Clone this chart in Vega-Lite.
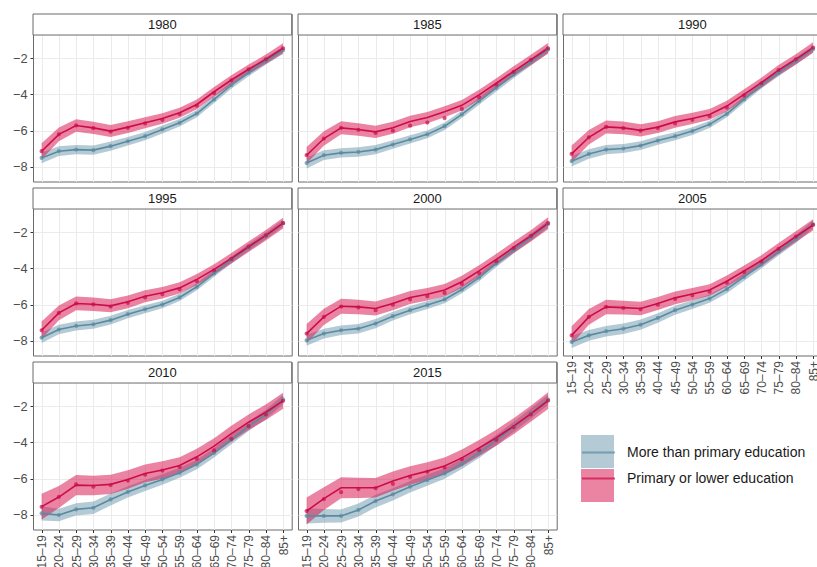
{
"$schema":"https://vega.github.io/schema/vega-lite/v6.json",
"background":"white",
"padding":{"left":11,"top":13,"right":0,"bottom":0},
"datasets":{
"years":[{"year":1980},{"year":1985},{"year":1990},{"year":1995},{"year":2000},{"year":2005},{"year":2010},{"year":2015}],
"d":[
{"year":1980,"edu":"more","age":"15–19","fit":-7.5,"err":0.3,"obs":-7.5},
{"year":1980,"edu":"more","age":"20–24","fit":-7.13,"err":0.27,"obs":-7.13},
{"year":1980,"edu":"more","age":"25–29","fit":-7.04,"err":0.26,"obs":-7.04},
{"year":1980,"edu":"more","age":"30–34","fit":-7.07,"err":0.26,"obs":-7.07},
{"year":1980,"edu":"more","age":"35–39","fit":-6.85,"err":0.25,"obs":-6.85},
{"year":1980,"edu":"more","age":"40–44","fit":-6.58,"err":0.24,"obs":-6.58},
{"year":1980,"edu":"more","age":"45–49","fit":-6.3,"err":0.23,"obs":-6.3},
{"year":1980,"edu":"more","age":"50–54","fit":-5.93,"err":0.22,"obs":-5.93},
{"year":1980,"edu":"more","age":"55–59","fit":-5.56,"err":0.21,"obs":-5.56},
{"year":1980,"edu":"more","age":"60–64","fit":-5.05,"err":0.2,"obs":-5.05},
{"year":1980,"edu":"more","age":"65–69","fit":-4.27,"err":0.2,"obs":-4.27},
{"year":1980,"edu":"more","age":"70–74","fit":-3.48,"err":0.2,"obs":-3.48},
{"year":1980,"edu":"more","age":"75–79","fit":-2.8,"err":0.2,"obs":-2.8},
{"year":1980,"edu":"more","age":"80–84","fit":-2.15,"err":0.2,"obs":-2.15},
{"year":1980,"edu":"more","age":"85+","fit":-1.56,"err":0.2,"obs":-1.56},
{"year":1980,"edu":"primary","age":"15–19","fit":-7.13,"err":0.44,"obs":-7.13},
{"year":1980,"edu":"primary","age":"20–24","fit":-6.2,"err":0.38,"obs":-6.2},
{"year":1980,"edu":"primary","age":"25–29","fit":-5.71,"err":0.35,"obs":-5.71},
{"year":1980,"edu":"primary","age":"30–34","fit":-5.84,"err":0.34,"obs":-5.86},
{"year":1980,"edu":"primary","age":"35–39","fit":-6.02,"err":0.33,"obs":-6.05},
{"year":1980,"edu":"primary","age":"40–44","fit":-5.8,"err":0.32,"obs":-5.84},
{"year":1980,"edu":"primary","age":"45–49","fit":-5.56,"err":0.3,"obs":-5.6},
{"year":1980,"edu":"primary","age":"50–54","fit":-5.32,"err":0.29,"obs":-5.4},
{"year":1980,"edu":"primary","age":"55–59","fit":-5.01,"err":0.28,"obs":-5.08},
{"year":1980,"edu":"primary","age":"60–64","fit":-4.55,"err":0.27,"obs":-4.62},
{"year":1980,"edu":"primary","age":"65–69","fit":-3.85,"err":0.26,"obs":-3.92},
{"year":1980,"edu":"primary","age":"70–74","fit":-3.2,"err":0.26,"obs":-3.22},
{"year":1980,"edu":"primary","age":"75–79","fit":-2.61,"err":0.26,"obs":-2.61},
{"year":1980,"edu":"primary","age":"80–84","fit":-2.06,"err":0.26,"obs":-2.06},
{"year":1980,"edu":"primary","age":"85+","fit":-1.45,"err":0.27,"obs":-1.45},
{"year":1985,"edu":"more","age":"15–19","fit":-7.78,"err":0.3,"obs":-7.78},
{"year":1985,"edu":"more","age":"20–24","fit":-7.35,"err":0.27,"obs":-7.35},
{"year":1985,"edu":"more","age":"25–29","fit":-7.22,"err":0.26,"obs":-7.22},
{"year":1985,"edu":"more","age":"30–34","fit":-7.17,"err":0.26,"obs":-7.17},
{"year":1985,"edu":"more","age":"35–39","fit":-7.04,"err":0.25,"obs":-7.04},
{"year":1985,"edu":"more","age":"40–44","fit":-6.76,"err":0.24,"obs":-6.76},
{"year":1985,"edu":"more","age":"45–49","fit":-6.48,"err":0.23,"obs":-6.48},
{"year":1985,"edu":"more","age":"50–54","fit":-6.2,"err":0.22,"obs":-6.2},
{"year":1985,"edu":"more","age":"55–59","fit":-5.75,"err":0.21,"obs":-5.75},
{"year":1985,"edu":"more","age":"60–64","fit":-5.1,"err":0.2,"obs":-5.1},
{"year":1985,"edu":"more","age":"65–69","fit":-4.36,"err":0.2,"obs":-4.36},
{"year":1985,"edu":"more","age":"70–74","fit":-3.63,"err":0.2,"obs":-3.63},
{"year":1985,"edu":"more","age":"75–79","fit":-2.9,"err":0.2,"obs":-2.9},
{"year":1985,"edu":"more","age":"80–84","fit":-2.22,"err":0.2,"obs":-2.22},
{"year":1985,"edu":"more","age":"85+","fit":-1.52,"err":0.2,"obs":-1.52},
{"year":1985,"edu":"primary","age":"15–19","fit":-7.35,"err":0.46,"obs":-7.35},
{"year":1985,"edu":"primary","age":"20–24","fit":-6.43,"err":0.4,"obs":-6.43},
{"year":1985,"edu":"primary","age":"25–29","fit":-5.84,"err":0.36,"obs":-5.84},
{"year":1985,"edu":"primary","age":"30–34","fit":-5.93,"err":0.35,"obs":-5.95},
{"year":1985,"edu":"primary","age":"35–39","fit":-6.06,"err":0.34,"obs":-6.12},
{"year":1985,"edu":"primary","age":"40–44","fit":-5.84,"err":0.33,"obs":-6.0},
{"year":1985,"edu":"primary","age":"45–49","fit":-5.49,"err":0.32,"obs":-5.72},
{"year":1985,"edu":"primary","age":"50–54","fit":-5.27,"err":0.31,"obs":-5.55},
{"year":1985,"edu":"primary","age":"55–59","fit":-4.95,"err":0.3,"obs":-5.3},
{"year":1985,"edu":"primary","age":"60–64","fit":-4.6,"err":0.29,"obs":-4.8},
{"year":1985,"edu":"primary","age":"65–69","fit":-4.02,"err":0.28,"obs":-4.15},
{"year":1985,"edu":"primary","age":"70–74","fit":-3.38,"err":0.28,"obs":-3.45},
{"year":1985,"edu":"primary","age":"75–79","fit":-2.72,"err":0.28,"obs":-2.75},
{"year":1985,"edu":"primary","age":"80–84","fit":-2.09,"err":0.28,"obs":-2.09},
{"year":1985,"edu":"primary","age":"85+","fit":-1.45,"err":0.29,"obs":-1.45},
{"year":1990,"edu":"more","age":"15–19","fit":-7.68,"err":0.29,"obs":-7.68},
{"year":1990,"edu":"more","age":"20–24","fit":-7.28,"err":0.26,"obs":-7.28},
{"year":1990,"edu":"more","age":"25–29","fit":-7.04,"err":0.25,"obs":-7.04},
{"year":1990,"edu":"more","age":"30–34","fit":-6.98,"err":0.25,"obs":-6.98},
{"year":1990,"edu":"more","age":"35–39","fit":-6.82,"err":0.24,"obs":-6.82},
{"year":1990,"edu":"more","age":"40–44","fit":-6.54,"err":0.23,"obs":-6.54},
{"year":1990,"edu":"more","age":"45–49","fit":-6.3,"err":0.22,"obs":-6.3},
{"year":1990,"edu":"more","age":"50–54","fit":-6.02,"err":0.21,"obs":-6.02},
{"year":1990,"edu":"more","age":"55–59","fit":-5.65,"err":0.2,"obs":-5.65},
{"year":1990,"edu":"more","age":"60–64","fit":-5.07,"err":0.19,"obs":-5.07},
{"year":1990,"edu":"more","age":"65–69","fit":-4.27,"err":0.19,"obs":-4.27},
{"year":1990,"edu":"more","age":"70–74","fit":-3.48,"err":0.19,"obs":-3.48},
{"year":1990,"edu":"more","age":"75–79","fit":-2.8,"err":0.19,"obs":-2.8},
{"year":1990,"edu":"more","age":"80–84","fit":-2.15,"err":0.19,"obs":-2.15},
{"year":1990,"edu":"more","age":"85+","fit":-1.5,"err":0.19,"obs":-1.5},
{"year":1990,"edu":"primary","age":"15–19","fit":-7.28,"err":0.46,"obs":-7.28},
{"year":1990,"edu":"primary","age":"20–24","fit":-6.36,"err":0.4,"obs":-6.36},
{"year":1990,"edu":"primary","age":"25–29","fit":-5.79,"err":0.36,"obs":-5.79},
{"year":1990,"edu":"primary","age":"30–34","fit":-5.84,"err":0.35,"obs":-5.86},
{"year":1990,"edu":"primary","age":"35–39","fit":-5.98,"err":0.34,"obs":-6.0},
{"year":1990,"edu":"primary","age":"40–44","fit":-5.8,"err":0.33,"obs":-5.85},
{"year":1990,"edu":"primary","age":"45–49","fit":-5.51,"err":0.32,"obs":-5.6},
{"year":1990,"edu":"primary","age":"50–54","fit":-5.32,"err":0.31,"obs":-5.4},
{"year":1990,"edu":"primary","age":"55–59","fit":-5.1,"err":0.3,"obs":-5.2},
{"year":1990,"edu":"primary","age":"60–64","fit":-4.64,"err":0.29,"obs":-4.72},
{"year":1990,"edu":"primary","age":"65–69","fit":-3.99,"err":0.28,"obs":-4.05},
{"year":1990,"edu":"primary","age":"70–74","fit":-3.35,"err":0.28,"obs":-3.38},
{"year":1990,"edu":"primary","age":"75–79","fit":-2.66,"err":0.28,"obs":-2.66},
{"year":1990,"edu":"primary","age":"80–84","fit":-2.06,"err":0.28,"obs":-2.06},
{"year":1990,"edu":"primary","age":"85+","fit":-1.41,"err":0.29,"obs":-1.41},
{"year":1995,"edu":"more","age":"15–19","fit":-7.82,"err":0.29,"obs":-7.82},
{"year":1995,"edu":"more","age":"20–24","fit":-7.37,"err":0.26,"obs":-7.37},
{"year":1995,"edu":"more","age":"25–29","fit":-7.17,"err":0.25,"obs":-7.17},
{"year":1995,"edu":"more","age":"30–34","fit":-7.08,"err":0.25,"obs":-7.08},
{"year":1995,"edu":"more","age":"35–39","fit":-6.85,"err":0.24,"obs":-6.85},
{"year":1995,"edu":"more","age":"40–44","fit":-6.52,"err":0.23,"obs":-6.52},
{"year":1995,"edu":"more","age":"45–49","fit":-6.25,"err":0.22,"obs":-6.25},
{"year":1995,"edu":"more","age":"50–54","fit":-5.99,"err":0.21,"obs":-5.99},
{"year":1995,"edu":"more","age":"55–59","fit":-5.6,"err":0.2,"obs":-5.6},
{"year":1995,"edu":"more","age":"60–64","fit":-5.01,"err":0.19,"obs":-5.01},
{"year":1995,"edu":"more","age":"65–69","fit":-4.27,"err":0.19,"obs":-4.27},
{"year":1995,"edu":"more","age":"70–74","fit":-3.53,"err":0.19,"obs":-3.53},
{"year":1995,"edu":"more","age":"75–79","fit":-2.84,"err":0.19,"obs":-2.84},
{"year":1995,"edu":"more","age":"80–84","fit":-2.2,"err":0.19,"obs":-2.2},
{"year":1995,"edu":"more","age":"85+","fit":-1.5,"err":0.19,"obs":-1.5},
{"year":1995,"edu":"primary","age":"15–19","fit":-7.41,"err":0.48,"obs":-7.41},
{"year":1995,"edu":"primary","age":"20–24","fit":-6.45,"err":0.41,"obs":-6.45},
{"year":1995,"edu":"primary","age":"25–29","fit":-5.93,"err":0.38,"obs":-5.93},
{"year":1995,"edu":"primary","age":"30–34","fit":-5.97,"err":0.37,"obs":-5.98},
{"year":1995,"edu":"primary","age":"35–39","fit":-6.06,"err":0.36,"obs":-6.1},
{"year":1995,"edu":"primary","age":"40–44","fit":-5.84,"err":0.35,"obs":-5.9},
{"year":1995,"edu":"primary","age":"45–49","fit":-5.53,"err":0.33,"obs":-5.6},
{"year":1995,"edu":"primary","age":"50–54","fit":-5.34,"err":0.32,"obs":-5.42},
{"year":1995,"edu":"primary","age":"55–59","fit":-5.07,"err":0.31,"obs":-5.15},
{"year":1995,"edu":"primary","age":"60–64","fit":-4.6,"err":0.3,"obs":-4.7},
{"year":1995,"edu":"primary","age":"65–69","fit":-4.05,"err":0.29,"obs":-4.1},
{"year":1995,"edu":"primary","age":"70–74","fit":-3.44,"err":0.29,"obs":-3.47},
{"year":1995,"edu":"primary","age":"75–79","fit":-2.8,"err":0.29,"obs":-2.8},
{"year":1995,"edu":"primary","age":"80–84","fit":-2.17,"err":0.29,"obs":-2.17},
{"year":1995,"edu":"primary","age":"85+","fit":-1.5,"err":0.3,"obs":-1.5},
{"year":2000,"edu":"more","age":"15–19","fit":-7.96,"err":0.3,"obs":-7.96},
{"year":2000,"edu":"more","age":"20–24","fit":-7.59,"err":0.27,"obs":-7.59},
{"year":2000,"edu":"more","age":"25–29","fit":-7.41,"err":0.26,"obs":-7.41},
{"year":2000,"edu":"more","age":"30–34","fit":-7.32,"err":0.26,"obs":-7.32},
{"year":2000,"edu":"more","age":"35–39","fit":-7.04,"err":0.25,"obs":-7.04},
{"year":2000,"edu":"more","age":"40–44","fit":-6.63,"err":0.24,"obs":-6.63},
{"year":2000,"edu":"more","age":"45–49","fit":-6.3,"err":0.23,"obs":-6.3},
{"year":2000,"edu":"more","age":"50–54","fit":-6.02,"err":0.22,"obs":-6.02},
{"year":2000,"edu":"more","age":"55–59","fit":-5.71,"err":0.21,"obs":-5.71},
{"year":2000,"edu":"more","age":"60–64","fit":-5.16,"err":0.2,"obs":-5.16},
{"year":2000,"edu":"more","age":"65–69","fit":-4.5,"err":0.2,"obs":-4.5},
{"year":2000,"edu":"more","age":"70–74","fit":-3.72,"err":0.2,"obs":-3.72},
{"year":2000,"edu":"more","age":"75–79","fit":-2.98,"err":0.2,"obs":-2.98},
{"year":2000,"edu":"more","age":"80–84","fit":-2.28,"err":0.2,"obs":-2.28},
{"year":2000,"edu":"more","age":"85+","fit":-1.54,"err":0.2,"obs":-1.54},
{"year":2000,"edu":"primary","age":"15–19","fit":-7.59,"err":0.53,"obs":-7.59},
{"year":2000,"edu":"primary","age":"20–24","fit":-6.67,"err":0.45,"obs":-6.67},
{"year":2000,"edu":"primary","age":"25–29","fit":-6.08,"err":0.41,"obs":-6.1},
{"year":2000,"edu":"primary","age":"30–34","fit":-6.12,"err":0.4,"obs":-6.15},
{"year":2000,"edu":"primary","age":"35–39","fit":-6.21,"err":0.39,"obs":-6.3},
{"year":2000,"edu":"primary","age":"40–44","fit":-5.93,"err":0.38,"obs":-6.0},
{"year":2000,"edu":"primary","age":"45–49","fit":-5.6,"err":0.36,"obs":-5.7},
{"year":2000,"edu":"primary","age":"50–54","fit":-5.42,"err":0.35,"obs":-5.53},
{"year":2000,"edu":"primary","age":"55–59","fit":-5.19,"err":0.34,"obs":-5.35},
{"year":2000,"edu":"primary","age":"60–64","fit":-4.73,"err":0.33,"obs":-4.85},
{"year":2000,"edu":"primary","age":"65–69","fit":-4.13,"err":0.31,"obs":-4.25},
{"year":2000,"edu":"primary","age":"70–74","fit":-3.5,"err":0.31,"obs":-3.6},
{"year":2000,"edu":"primary","age":"75–79","fit":-2.84,"err":0.31,"obs":-2.88},
{"year":2000,"edu":"primary","age":"80–84","fit":-2.2,"err":0.31,"obs":-2.2},
{"year":2000,"edu":"primary","age":"85+","fit":-1.5,"err":0.33,"obs":-1.5},
{"year":2005,"edu":"more","age":"15–19","fit":-8.05,"err":0.33,"obs":-8.05},
{"year":2005,"edu":"more","age":"20–24","fit":-7.69,"err":0.3,"obs":-7.69},
{"year":2005,"edu":"more","age":"25–29","fit":-7.46,"err":0.29,"obs":-7.46},
{"year":2005,"edu":"more","age":"30–34","fit":-7.32,"err":0.29,"obs":-7.32},
{"year":2005,"edu":"more","age":"35–39","fit":-7.1,"err":0.28,"obs":-7.1},
{"year":2005,"edu":"more","age":"40–44","fit":-6.73,"err":0.26,"obs":-6.73},
{"year":2005,"edu":"more","age":"45–49","fit":-6.3,"err":0.25,"obs":-6.3},
{"year":2005,"edu":"more","age":"50–54","fit":-5.99,"err":0.24,"obs":-5.99},
{"year":2005,"edu":"more","age":"55–59","fit":-5.66,"err":0.23,"obs":-5.66},
{"year":2005,"edu":"more","age":"60–64","fit":-5.14,"err":0.22,"obs":-5.14},
{"year":2005,"edu":"more","age":"65–69","fit":-4.46,"err":0.22,"obs":-4.46},
{"year":2005,"edu":"more","age":"70–74","fit":-3.78,"err":0.22,"obs":-3.78},
{"year":2005,"edu":"more","age":"75–79","fit":-3.07,"err":0.22,"obs":-3.07},
{"year":2005,"edu":"more","age":"80–84","fit":-2.37,"err":0.22,"obs":-2.37},
{"year":2005,"edu":"more","age":"85+","fit":-1.56,"err":0.22,"obs":-1.56},
{"year":2005,"edu":"primary","age":"15–19","fit":-7.69,"err":0.5,"obs":-7.69},
{"year":2005,"edu":"primary","age":"20–24","fit":-6.67,"err":0.43,"obs":-6.67},
{"year":2005,"edu":"primary","age":"25–29","fit":-6.12,"err":0.4,"obs":-6.12},
{"year":2005,"edu":"primary","age":"30–34","fit":-6.16,"err":0.38,"obs":-6.18},
{"year":2005,"edu":"primary","age":"35–39","fit":-6.21,"err":0.37,"obs":-6.25},
{"year":2005,"edu":"primary","age":"40–44","fit":-5.93,"err":0.36,"obs":-6.0},
{"year":2005,"edu":"primary","age":"45–49","fit":-5.62,"err":0.35,"obs":-5.68},
{"year":2005,"edu":"primary","age":"50–54","fit":-5.41,"err":0.34,"obs":-5.48},
{"year":2005,"edu":"primary","age":"55–59","fit":-5.19,"err":0.32,"obs":-5.28},
{"year":2005,"edu":"primary","age":"60–64","fit":-4.7,"err":0.31,"obs":-4.78},
{"year":2005,"edu":"primary","age":"65–69","fit":-4.14,"err":0.3,"obs":-4.2},
{"year":2005,"edu":"primary","age":"70–74","fit":-3.57,"err":0.3,"obs":-3.62},
{"year":2005,"edu":"primary","age":"75–79","fit":-2.89,"err":0.3,"obs":-2.92},
{"year":2005,"edu":"primary","age":"80–84","fit":-2.24,"err":0.3,"obs":-2.24},
{"year":2005,"edu":"primary","age":"85+","fit":-1.6,"err":0.31,"obs":-1.6},
{"year":2010,"edu":"more","age":"15–19","fit":-7.91,"err":0.39,"obs":-7.91},
{"year":2010,"edu":"more","age":"20–24","fit":-8.0,"err":0.35,"obs":-8.0},
{"year":2010,"edu":"more","age":"25–29","fit":-7.69,"err":0.34,"obs":-7.69},
{"year":2010,"edu":"more","age":"30–34","fit":-7.6,"err":0.34,"obs":-7.6},
{"year":2010,"edu":"more","age":"35–39","fit":-7.14,"err":0.33,"obs":-7.14},
{"year":2010,"edu":"more","age":"40–44","fit":-6.73,"err":0.31,"obs":-6.73},
{"year":2010,"edu":"more","age":"45–49","fit":-6.37,"err":0.3,"obs":-6.37},
{"year":2010,"edu":"more","age":"50–54","fit":-6.04,"err":0.29,"obs":-6.04},
{"year":2010,"edu":"more","age":"55–59","fit":-5.67,"err":0.27,"obs":-5.67},
{"year":2010,"edu":"more","age":"60–64","fit":-5.21,"err":0.26,"obs":-5.21},
{"year":2010,"edu":"more","age":"65–69","fit":-4.57,"err":0.26,"obs":-4.57},
{"year":2010,"edu":"more","age":"70–74","fit":-3.84,"err":0.26,"obs":-3.84},
{"year":2010,"edu":"more","age":"75–79","fit":-3.1,"err":0.26,"obs":-3.1},
{"year":2010,"edu":"more","age":"80–84","fit":-2.46,"err":0.26,"obs":-2.46},
{"year":2010,"edu":"more","age":"85+","fit":-1.62,"err":0.26,"obs":-1.62},
{"year":2010,"edu":"primary","age":"15–19","fit":-7.54,"err":0.71,"obs":-7.55},
{"year":2010,"edu":"primary","age":"20–24","fit":-7.01,"err":0.61,"obs":-7.0},
{"year":2010,"edu":"primary","age":"25–29","fit":-6.35,"err":0.56,"obs":-6.31},
{"year":2010,"edu":"primary","age":"30–34","fit":-6.37,"err":0.54,"obs":-6.44},
{"year":2010,"edu":"primary","age":"35–39","fit":-6.31,"err":0.53,"obs":-6.35},
{"year":2010,"edu":"primary","age":"40–44","fit":-6.04,"err":0.51,"obs":-6.1},
{"year":2010,"edu":"primary","age":"45–49","fit":-5.71,"err":0.49,"obs":-5.78},
{"year":2010,"edu":"primary","age":"50–54","fit":-5.52,"err":0.48,"obs":-5.55},
{"year":2010,"edu":"primary","age":"55–59","fit":-5.27,"err":0.46,"obs":-5.35},
{"year":2010,"edu":"primary","age":"60–64","fit":-4.79,"err":0.44,"obs":-4.9},
{"year":2010,"edu":"primary","age":"65–69","fit":-4.2,"err":0.43,"obs":-4.44},
{"year":2010,"edu":"primary","age":"70–74","fit":-3.51,"err":0.43,"obs":-3.8},
{"year":2010,"edu":"primary","age":"75–79","fit":-2.88,"err":0.43,"obs":-3.1},
{"year":2010,"edu":"primary","age":"80–84","fit":-2.33,"err":0.43,"obs":-2.45},
{"year":2010,"edu":"primary","age":"85+","fit":-1.7,"err":0.44,"obs":-1.7},
{"year":2015,"edu":"more","age":"15–19","fit":-8.05,"err":0.42,"obs":-8.05},
{"year":2015,"edu":"more","age":"20–24","fit":-8.05,"err":0.38,"obs":-8.05},
{"year":2015,"edu":"more","age":"25–29","fit":-8.05,"err":0.36,"obs":-8.05},
{"year":2015,"edu":"more","age":"30–34","fit":-7.72,"err":0.36,"obs":-7.72},
{"year":2015,"edu":"more","age":"35–39","fit":-7.23,"err":0.35,"obs":-7.23},
{"year":2015,"edu":"more","age":"40–44","fit":-6.86,"err":0.34,"obs":-6.86},
{"year":2015,"edu":"more","age":"45–49","fit":-6.44,"err":0.32,"obs":-6.44},
{"year":2015,"edu":"more","age":"50–54","fit":-6.07,"err":0.31,"obs":-6.07},
{"year":2015,"edu":"more","age":"55–59","fit":-5.71,"err":0.29,"obs":-5.71},
{"year":2015,"edu":"more","age":"60–64","fit":-5.18,"err":0.28,"obs":-5.18},
{"year":2015,"edu":"more","age":"65–69","fit":-4.57,"err":0.28,"obs":-4.57},
{"year":2015,"edu":"more","age":"70–74","fit":-3.87,"err":0.28,"obs":-3.87},
{"year":2015,"edu":"more","age":"75–79","fit":-3.14,"err":0.28,"obs":-3.14},
{"year":2015,"edu":"more","age":"80–84","fit":-2.41,"err":0.28,"obs":-2.41},
{"year":2015,"edu":"more","age":"85+","fit":-1.64,"err":0.28,"obs":-1.64},
{"year":2015,"edu":"primary","age":"15–19","fit":-7.78,"err":0.74,"obs":-7.78},
{"year":2015,"edu":"primary","age":"20–24","fit":-7.1,"err":0.63,"obs":-7.12},
{"year":2015,"edu":"primary","age":"25–29","fit":-6.5,"err":0.58,"obs":-6.74},
{"year":2015,"edu":"primary","age":"30–34","fit":-6.5,"err":0.56,"obs":-6.57},
{"year":2015,"edu":"primary","age":"35–39","fit":-6.5,"err":0.54,"obs":-6.52},
{"year":2015,"edu":"primary","age":"40–44","fit":-6.13,"err":0.53,"obs":-6.28},
{"year":2015,"edu":"primary","age":"45–49","fit":-5.82,"err":0.51,"obs":-5.9},
{"year":2015,"edu":"primary","age":"50–54","fit":-5.58,"err":0.49,"obs":-5.62},
{"year":2015,"edu":"primary","age":"55–59","fit":-5.3,"err":0.47,"obs":-5.38},
{"year":2015,"edu":"primary","age":"60–64","fit":-4.85,"err":0.46,"obs":-4.92},
{"year":2015,"edu":"primary","age":"65–69","fit":-4.3,"err":0.44,"obs":-4.42},
{"year":2015,"edu":"primary","age":"70–74","fit":-3.74,"err":0.44,"obs":-3.85},
{"year":2015,"edu":"primary","age":"75–79","fit":-3.1,"err":0.44,"obs":-3.15},
{"year":2015,"edu":"primary","age":"80–84","fit":-2.42,"err":0.44,"obs":-2.45},
{"year":2015,"edu":"primary","age":"85+","fit":-1.69,"err":0.46,"obs":-1.69}
]},
"data":{"name":"d"},
"columns":3,
"spacing":{"row":6,"column":6},
"bounds":"flush",
"concat":[
{"width":258.7,"height":167.5,"layer":[
 {"transform":[{"filter":"datum.year == 1980"}],
  "encoding":{"x":{"field":"age","type":"ordinal","title":null,"scale":{"type":"point","padding":0.5,"domain":["15–19","20–24","25–29","30–34","35–39","40–44","45–49","50–54","55–59","60–64","65–69","70–74","75–79","80–84","85+"]},"axis":{"labels":false,"ticks":false}}},
  "layer":[
   {"mark":{"type":"errorband","opacity":0.5},"encoding":{"y":{"field":"fit","type":"quantitative","title":null,"scale":{"domain":[-8.8,0.44],"nice":false,"zero":false},"axis":{"values":[-8,-7,-6,-5,-4,-3,-2,-1],"labelExpr":"datum.value % 2 === 0 ? datum.label : ''","tickColor":{"condition":{"test":"datum.value % 2 === 0","value":"#333333"},"value":"rgba(0,0,0,0)"},"gridColor":{"condition":{"test":"datum.value % 2 === 0","value":"#ebebeb"},"value":"#f4f4f4"}}},"yError":{"field":"err"},"fill":{"field":"edu","type":"nominal","title":null,"scale":{"domain":["more","primary"],"range":["#6a97ab","#d70a48"]},"legend":{"symbolType":"square","symbolOpacity":0.5,"symbolStrokeWidth":0,"zindex":1,"labelExpr":"''"}}}},
   {"mark":{"type":"line","strokeWidth":1.6},"encoding":{"y":{"field":"fit","type":"quantitative"},"stroke":{"field":"edu","type":"nominal","title":null,"scale":{"range":["#5b8aa0","#cc0c4a"]},"legend":{"symbolType":"stroke","symbolStrokeWidth":1.8,"zindex":2,"labelExpr":"datum.label == 'more' ? 'More than primary education' : 'Primary or lower education'"}}}},
   {"mark":{"type":"point","filled":false,"size":5,"strokeWidth":2,"opacity":0.7},"encoding":{"y":{"field":"obs","type":"quantitative"},"stroke":{"field":"edu","type":"nominal"}}}
  ]},
 {"data":{"name":"years"},"transform":[{"filter":"datum.year == 1980"}],"mark":{"type":"rect","fill":"white","stroke":"#6b6b6b","strokeWidth":1},"encoding":{"y":{"datum":-0.72},"y2":{"datum":0.44}}},
 {"data":{"name":"years"},"transform":[{"filter":"datum.year == 1980"}],"mark":{"type":"text","fontSize":13,"color":"#1a1a1a"},"encoding":{"y":{"datum":-0.14},"text":{"field":"year","type":"nominal"}}}
]},
{"width":258.7,"height":167.5,"layer":[
 {"transform":[{"filter":"datum.year == 1985"}],
  "encoding":{"x":{"field":"age","type":"ordinal","title":null,"scale":{"type":"point","padding":0.5,"domain":["15–19","20–24","25–29","30–34","35–39","40–44","45–49","50–54","55–59","60–64","65–69","70–74","75–79","80–84","85+"]},"axis":{"labels":false,"ticks":false}}},
  "layer":[
   {"mark":{"type":"errorband","opacity":0.5},"encoding":{"y":{"field":"fit","type":"quantitative","title":null,"scale":{"domain":[-8.8,0.44],"nice":false,"zero":false},"axis":{"values":[-8,-7,-6,-5,-4,-3,-2,-1],"labels":false,"ticks":false,"gridColor":{"condition":{"test":"datum.value % 2 === 0","value":"#ebebeb"},"value":"#f4f4f4"}}},"yError":{"field":"err"},"fill":{"field":"edu","type":"nominal","title":null,"scale":{"domain":["more","primary"],"range":["#6a97ab","#d70a48"]},"legend":null}}},
   {"mark":{"type":"line","strokeWidth":1.6},"encoding":{"y":{"field":"fit","type":"quantitative"},"stroke":{"field":"edu","type":"nominal","legend":null}}},
   {"mark":{"type":"point","filled":false,"size":5,"strokeWidth":2,"opacity":0.7},"encoding":{"y":{"field":"obs","type":"quantitative"},"stroke":{"field":"edu","type":"nominal","legend":null}}}
  ]},
 {"data":{"name":"years"},"transform":[{"filter":"datum.year == 1985"}],"mark":{"type":"rect","fill":"white","stroke":"#6b6b6b","strokeWidth":1},"encoding":{"y":{"datum":-0.72},"y2":{"datum":0.44}}},
 {"data":{"name":"years"},"transform":[{"filter":"datum.year == 1985"}],"mark":{"type":"text","fontSize":13,"color":"#1a1a1a"},"encoding":{"y":{"datum":-0.14},"text":{"field":"year","type":"nominal"}}}
]},
{"width":258.7,"height":167.5,"layer":[
 {"transform":[{"filter":"datum.year == 1990"}],
  "encoding":{"x":{"field":"age","type":"ordinal","title":null,"scale":{"type":"point","padding":0.5,"domain":["15–19","20–24","25–29","30–34","35–39","40–44","45–49","50–54","55–59","60–64","65–69","70–74","75–79","80–84","85+"]},"axis":{"labels":false,"ticks":false}}},
  "layer":[
   {"mark":{"type":"errorband","opacity":0.5},"encoding":{"y":{"field":"fit","type":"quantitative","title":null,"scale":{"domain":[-8.8,0.44],"nice":false,"zero":false},"axis":{"values":[-8,-7,-6,-5,-4,-3,-2,-1],"labels":false,"ticks":false,"gridColor":{"condition":{"test":"datum.value % 2 === 0","value":"#ebebeb"},"value":"#f4f4f4"}}},"yError":{"field":"err"},"fill":{"field":"edu","type":"nominal","title":null,"scale":{"domain":["more","primary"],"range":["#6a97ab","#d70a48"]},"legend":null}}},
   {"mark":{"type":"line","strokeWidth":1.6},"encoding":{"y":{"field":"fit","type":"quantitative"},"stroke":{"field":"edu","type":"nominal","legend":null}}},
   {"mark":{"type":"point","filled":false,"size":5,"strokeWidth":2,"opacity":0.7},"encoding":{"y":{"field":"obs","type":"quantitative"},"stroke":{"field":"edu","type":"nominal","legend":null}}}
  ]},
 {"data":{"name":"years"},"transform":[{"filter":"datum.year == 1990"}],"mark":{"type":"rect","fill":"white","stroke":"#6b6b6b","strokeWidth":1},"encoding":{"y":{"datum":-0.72},"y2":{"datum":0.44}}},
 {"data":{"name":"years"},"transform":[{"filter":"datum.year == 1990"}],"mark":{"type":"text","fontSize":13,"color":"#1a1a1a"},"encoding":{"y":{"datum":-0.14},"text":{"field":"year","type":"nominal"}}}
]},
{"width":258.7,"height":167.5,"layer":[
 {"transform":[{"filter":"datum.year == 1995"}],
  "encoding":{"x":{"field":"age","type":"ordinal","title":null,"scale":{"type":"point","padding":0.5,"domain":["15–19","20–24","25–29","30–34","35–39","40–44","45–49","50–54","55–59","60–64","65–69","70–74","75–79","80–84","85+"]},"axis":{"labels":false,"ticks":false}}},
  "layer":[
   {"mark":{"type":"errorband","opacity":0.5},"encoding":{"y":{"field":"fit","type":"quantitative","title":null,"scale":{"domain":[-8.8,0.44],"nice":false,"zero":false},"axis":{"values":[-8,-7,-6,-5,-4,-3,-2,-1],"labelExpr":"datum.value % 2 === 0 ? datum.label : ''","tickColor":{"condition":{"test":"datum.value % 2 === 0","value":"#333333"},"value":"rgba(0,0,0,0)"},"gridColor":{"condition":{"test":"datum.value % 2 === 0","value":"#ebebeb"},"value":"#f4f4f4"}}},"yError":{"field":"err"},"fill":{"field":"edu","type":"nominal","title":null,"scale":{"domain":["more","primary"],"range":["#6a97ab","#d70a48"]},"legend":null}}},
   {"mark":{"type":"line","strokeWidth":1.6},"encoding":{"y":{"field":"fit","type":"quantitative"},"stroke":{"field":"edu","type":"nominal","legend":null}}},
   {"mark":{"type":"point","filled":false,"size":5,"strokeWidth":2,"opacity":0.7},"encoding":{"y":{"field":"obs","type":"quantitative"},"stroke":{"field":"edu","type":"nominal","legend":null}}}
  ]},
 {"data":{"name":"years"},"transform":[{"filter":"datum.year == 1995"}],"mark":{"type":"rect","fill":"white","stroke":"#6b6b6b","strokeWidth":1},"encoding":{"y":{"datum":-0.72},"y2":{"datum":0.44}}},
 {"data":{"name":"years"},"transform":[{"filter":"datum.year == 1995"}],"mark":{"type":"text","fontSize":13,"color":"#1a1a1a"},"encoding":{"y":{"datum":-0.14},"text":{"field":"year","type":"nominal"}}}
]},
{"width":258.7,"height":167.5,"layer":[
 {"transform":[{"filter":"datum.year == 2000"}],
  "encoding":{"x":{"field":"age","type":"ordinal","title":null,"scale":{"type":"point","padding":0.5,"domain":["15–19","20–24","25–29","30–34","35–39","40–44","45–49","50–54","55–59","60–64","65–69","70–74","75–79","80–84","85+"]},"axis":{"labels":false,"ticks":false}}},
  "layer":[
   {"mark":{"type":"errorband","opacity":0.5},"encoding":{"y":{"field":"fit","type":"quantitative","title":null,"scale":{"domain":[-8.8,0.44],"nice":false,"zero":false},"axis":{"values":[-8,-7,-6,-5,-4,-3,-2,-1],"labels":false,"ticks":false,"gridColor":{"condition":{"test":"datum.value % 2 === 0","value":"#ebebeb"},"value":"#f4f4f4"}}},"yError":{"field":"err"},"fill":{"field":"edu","type":"nominal","title":null,"scale":{"domain":["more","primary"],"range":["#6a97ab","#d70a48"]},"legend":null}}},
   {"mark":{"type":"line","strokeWidth":1.6},"encoding":{"y":{"field":"fit","type":"quantitative"},"stroke":{"field":"edu","type":"nominal","legend":null}}},
   {"mark":{"type":"point","filled":false,"size":5,"strokeWidth":2,"opacity":0.7},"encoding":{"y":{"field":"obs","type":"quantitative"},"stroke":{"field":"edu","type":"nominal","legend":null}}}
  ]},
 {"data":{"name":"years"},"transform":[{"filter":"datum.year == 2000"}],"mark":{"type":"rect","fill":"white","stroke":"#6b6b6b","strokeWidth":1},"encoding":{"y":{"datum":-0.72},"y2":{"datum":0.44}}},
 {"data":{"name":"years"},"transform":[{"filter":"datum.year == 2000"}],"mark":{"type":"text","fontSize":13,"color":"#1a1a1a"},"encoding":{"y":{"datum":-0.14},"text":{"field":"year","type":"nominal"}}}
]},
{"width":258.7,"height":167.5,"layer":[
 {"transform":[{"filter":"datum.year == 2005"}],
  "encoding":{"x":{"field":"age","type":"ordinal","title":null,"scale":{"type":"point","padding":0.5,"domain":["15–19","20–24","25–29","30–34","35–39","40–44","45–49","50–54","55–59","60–64","65–69","70–74","75–79","80–84","85+"]},"axis":{"labelAngle":270}}},
  "layer":[
   {"mark":{"type":"errorband","opacity":0.5},"encoding":{"y":{"field":"fit","type":"quantitative","title":null,"scale":{"domain":[-8.8,0.44],"nice":false,"zero":false},"axis":{"values":[-8,-7,-6,-5,-4,-3,-2,-1],"labels":false,"ticks":false,"gridColor":{"condition":{"test":"datum.value % 2 === 0","value":"#ebebeb"},"value":"#f4f4f4"}}},"yError":{"field":"err"},"fill":{"field":"edu","type":"nominal","title":null,"scale":{"domain":["more","primary"],"range":["#6a97ab","#d70a48"]},"legend":null}}},
   {"mark":{"type":"line","strokeWidth":1.6},"encoding":{"y":{"field":"fit","type":"quantitative"},"stroke":{"field":"edu","type":"nominal","legend":null}}},
   {"mark":{"type":"point","filled":false,"size":5,"strokeWidth":2,"opacity":0.7},"encoding":{"y":{"field":"obs","type":"quantitative"},"stroke":{"field":"edu","type":"nominal","legend":null}}}
  ]},
 {"data":{"name":"years"},"transform":[{"filter":"datum.year == 2005"}],"mark":{"type":"rect","fill":"white","stroke":"#6b6b6b","strokeWidth":1},"encoding":{"y":{"datum":-0.72},"y2":{"datum":0.44}}},
 {"data":{"name":"years"},"transform":[{"filter":"datum.year == 2005"}],"mark":{"type":"text","fontSize":13,"color":"#1a1a1a"},"encoding":{"y":{"datum":-0.14},"text":{"field":"year","type":"nominal"}}}
]},
{"width":258.7,"height":167.5,"layer":[
 {"transform":[{"filter":"datum.year == 2010"}],
  "encoding":{"x":{"field":"age","type":"ordinal","title":null,"scale":{"type":"point","padding":0.5,"domain":["15–19","20–24","25–29","30–34","35–39","40–44","45–49","50–54","55–59","60–64","65–69","70–74","75–79","80–84","85+"]},"axis":{"labelAngle":270}}},
  "layer":[
   {"mark":{"type":"errorband","opacity":0.5},"encoding":{"y":{"field":"fit","type":"quantitative","title":null,"scale":{"domain":[-8.8,0.44],"nice":false,"zero":false},"axis":{"values":[-8,-7,-6,-5,-4,-3,-2,-1],"labelExpr":"datum.value % 2 === 0 ? datum.label : ''","tickColor":{"condition":{"test":"datum.value % 2 === 0","value":"#333333"},"value":"rgba(0,0,0,0)"},"gridColor":{"condition":{"test":"datum.value % 2 === 0","value":"#ebebeb"},"value":"#f4f4f4"}}},"yError":{"field":"err"},"fill":{"field":"edu","type":"nominal","title":null,"scale":{"domain":["more","primary"],"range":["#6a97ab","#d70a48"]},"legend":null}}},
   {"mark":{"type":"line","strokeWidth":1.6},"encoding":{"y":{"field":"fit","type":"quantitative"},"stroke":{"field":"edu","type":"nominal","legend":null}}},
   {"mark":{"type":"point","filled":false,"size":5,"strokeWidth":2,"opacity":0.7},"encoding":{"y":{"field":"obs","type":"quantitative"},"stroke":{"field":"edu","type":"nominal","legend":null}}}
  ]},
 {"data":{"name":"years"},"transform":[{"filter":"datum.year == 2010"}],"mark":{"type":"rect","fill":"white","stroke":"#6b6b6b","strokeWidth":1},"encoding":{"y":{"datum":-0.72},"y2":{"datum":0.44}}},
 {"data":{"name":"years"},"transform":[{"filter":"datum.year == 2010"}],"mark":{"type":"text","fontSize":13,"color":"#1a1a1a"},"encoding":{"y":{"datum":-0.14},"text":{"field":"year","type":"nominal"}}}
]},
{"width":258.7,"height":167.5,"layer":[
 {"transform":[{"filter":"datum.year == 2015"}],
  "encoding":{"x":{"field":"age","type":"ordinal","title":null,"scale":{"type":"point","padding":0.5,"domain":["15–19","20–24","25–29","30–34","35–39","40–44","45–49","50–54","55–59","60–64","65–69","70–74","75–79","80–84","85+"]},"axis":{"labelAngle":270}}},
  "layer":[
   {"mark":{"type":"errorband","opacity":0.5},"encoding":{"y":{"field":"fit","type":"quantitative","title":null,"scale":{"domain":[-8.8,0.44],"nice":false,"zero":false},"axis":{"values":[-8,-7,-6,-5,-4,-3,-2,-1],"labels":false,"ticks":false,"gridColor":{"condition":{"test":"datum.value % 2 === 0","value":"#ebebeb"},"value":"#f4f4f4"}}},"yError":{"field":"err"},"fill":{"field":"edu","type":"nominal","title":null,"scale":{"domain":["more","primary"],"range":["#6a97ab","#d70a48"]},"legend":null}}},
   {"mark":{"type":"line","strokeWidth":1.6},"encoding":{"y":{"field":"fit","type":"quantitative"},"stroke":{"field":"edu","type":"nominal","legend":null}}},
   {"mark":{"type":"point","filled":false,"size":5,"strokeWidth":2,"opacity":0.7},"encoding":{"y":{"field":"obs","type":"quantitative"},"stroke":{"field":"edu","type":"nominal","legend":null}}}
  ]},
 {"data":{"name":"years"},"transform":[{"filter":"datum.year == 2015"}],"mark":{"type":"rect","fill":"white","stroke":"#6b6b6b","strokeWidth":1},"encoding":{"y":{"datum":-0.72},"y2":{"datum":0.44}}},
 {"data":{"name":"years"},"transform":[{"filter":"datum.year == 2015"}],"mark":{"type":"text","fontSize":13,"color":"#1a1a1a"},"encoding":{"y":{"datum":-0.14},"text":{"field":"year","type":"nominal"}}}
]}
],
"config":{
 "font":"Liberation Sans",
 "view":{"stroke":"#6b6b6b","strokeWidth":1},
 "axis":{"domain":false,"grid":true,"gridColor":"#ebebeb","gridWidth":1,"tickColor":"#333333","tickSize":3,"labelColor":"#4d4d4d","labelFont":"Liberation Sans"},
 "axisX":{"labelFontSize":12,"labelPadding":2},
 "axisY":{"labelFontSize":12.8,"labelPadding":3},
 "legend":{"orient":"none","legendX":548,"legendY":421,"symbolSize":1089,"labelFontSize":14,"labelColor":"#1a1a1a","labelOffset":11,"rowPadding":1,"padding":0,"labelFont":"Liberation Sans","labelLimit":400}
}
}
